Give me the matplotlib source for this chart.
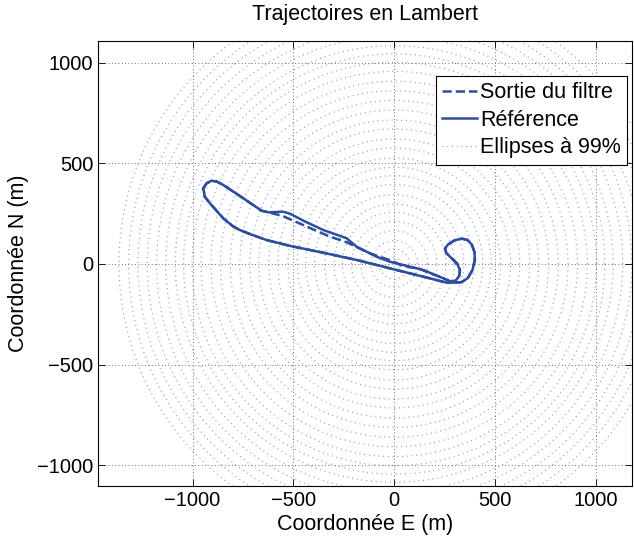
import numpy as np
import matplotlib
matplotlib.use('Agg')
import matplotlib.pyplot as plt

plt.rcParams['font.family'] = ['Liberation Sans', 'DejaVu Sans']
plt.rcParams['font.size'] = 15

# Reference trajectory (closed loop), metres
ref_e = [-947, -930, -906, -880, -848, -749, -658, -625, -551, -517, -450, -352, -236, -187, -87, -21, 45, 144, 243, 293,
         335, 365, 388, 400, 398, 384, 362, 335, 300, 268, 252, 258, 285, 312, 326, 322, 305, 275, 260,
         144, 12, -186, -352, -517, -633, -716, -766, -798, -848, -914, -940, -947]
ref_n = [377, 402, 414, 410, 393, 327, 265, 257, 260, 250, 215, 169, 128, 86, 36, 11, -5, -30, -71, -93,
         -90, -70, -30, 20, 60, 98, 120, 126, 118, 98, 78, 55, 28, 2, -30, -60, -82, -93, -93,
         -63, -30, 20, 56, 90, 119, 149, 169, 186, 227, 302, 335, 377]

# Filter output
filt_e = [-947, -930, -906, -880, -848, -749, -658, -625, -554, -434, -319, -236, -121, -13, 37, 127, 243, 293,
          335, 365, 388, 400, 398, 384, 362, 335, 300, 268, 252, 258, 285, 312, 326, 322, 305, 275, 260,
          144, 12, -186, -352, -517, -633, -716, -766, -798, -848, -914, -940, -947]
filt_n = [377, 402, 414, 410, 393, 327, 265, 257, 239, 186, 136, 108, 53, 16, -8, -25, -71, -93,
          -90, -70, -30, 20, 60, 98, 120, 126, 118, 98, 78, 55, 28, 2, -30, -60, -82, -93, -93,
          -63, -30, 20, 56, 90, 119, 149, 169, 186, 227, 302, 335, 377]

# 99% ellipse radii (m), centred on origin
ell_r = [30, 75, 116, 166, 212, 257, 298, 345, 395, 439, 481, 527, 577, 622, 672, 716, 766, 813,
         862, 909, 958, 1003, 1045, 1086, 1133, 1179, 1225, 1271, 1317, 1365]

ticks = [-1000, -500, 0, 500, 1000]
blue = '#2e4d9e'

fig = plt.figure(figsize=(6.34, 5.38), dpi=100)
ax = fig.add_axes([0.155, 0.0967, 0.8414, 0.8271])

t = np.linspace(0, 2 * np.pi, 500)
for r in ell_r:
    ax.plot(r * np.cos(t), r * np.sin(t), color='#5470c0', lw=0.9, ls=(0, (0.8, 3)),
            alpha=0.7, zorder=1)
h3 = ax.lines[0]

h1, = ax.plot(filt_e, filt_n, '--', color=blue, lw=1.8, zorder=3)
h2, = ax.plot(ref_e, ref_n, '-', color=blue, lw=1.8, zorder=4)

ax.set_xlim(-1468, 1178)
ax.set_ylim(-1104, 1109)
ax.set_xticks(ticks)
ax.set_yticks(ticks)
ax.set_xticklabels(['\u22121000', '\u2212500', '0', '500', '1000'], fontsize=14.5)
ax.set_yticklabels(['\u22121000', '\u2212500', '0', '500', '1000'], fontsize=14.5)
ax.tick_params(direction='in', length=5, top=True, right=True, width=0.6)
ax.grid(True, color='#444444', ls=(0, (1, 3)), lw=0.6)
for s in ax.spines.values():
    s.set_linewidth(0.8)

ax.set_title('Trajectoires en Lambert', fontsize=15.5, pad=15)
ax.set_xlabel('Coordonnée E (m)', fontsize=15.5, labelpad=3)
ax.set_ylabel('Coordonnée N (m)', fontsize=15.5, labelpad=6)

leg = ax.legend([h1, h2, h3], ['Sortie du filtre', 'Référence', 'Ellipses à 99%'],
                loc='upper right', bbox_to_anchor=(627.3 / 634, 1 - 76 / 538),
                bbox_transform=fig.transFigure, fancybox=False, framealpha=1,
                edgecolor='black', handlelength=1.6, handletextpad=0.15,
                borderpad=0.3, labelspacing=0.3, borderaxespad=0, fontsize=15.5)
leg.get_frame().set_linewidth(0.8)

fig.savefig('out.png', dpi=100)
